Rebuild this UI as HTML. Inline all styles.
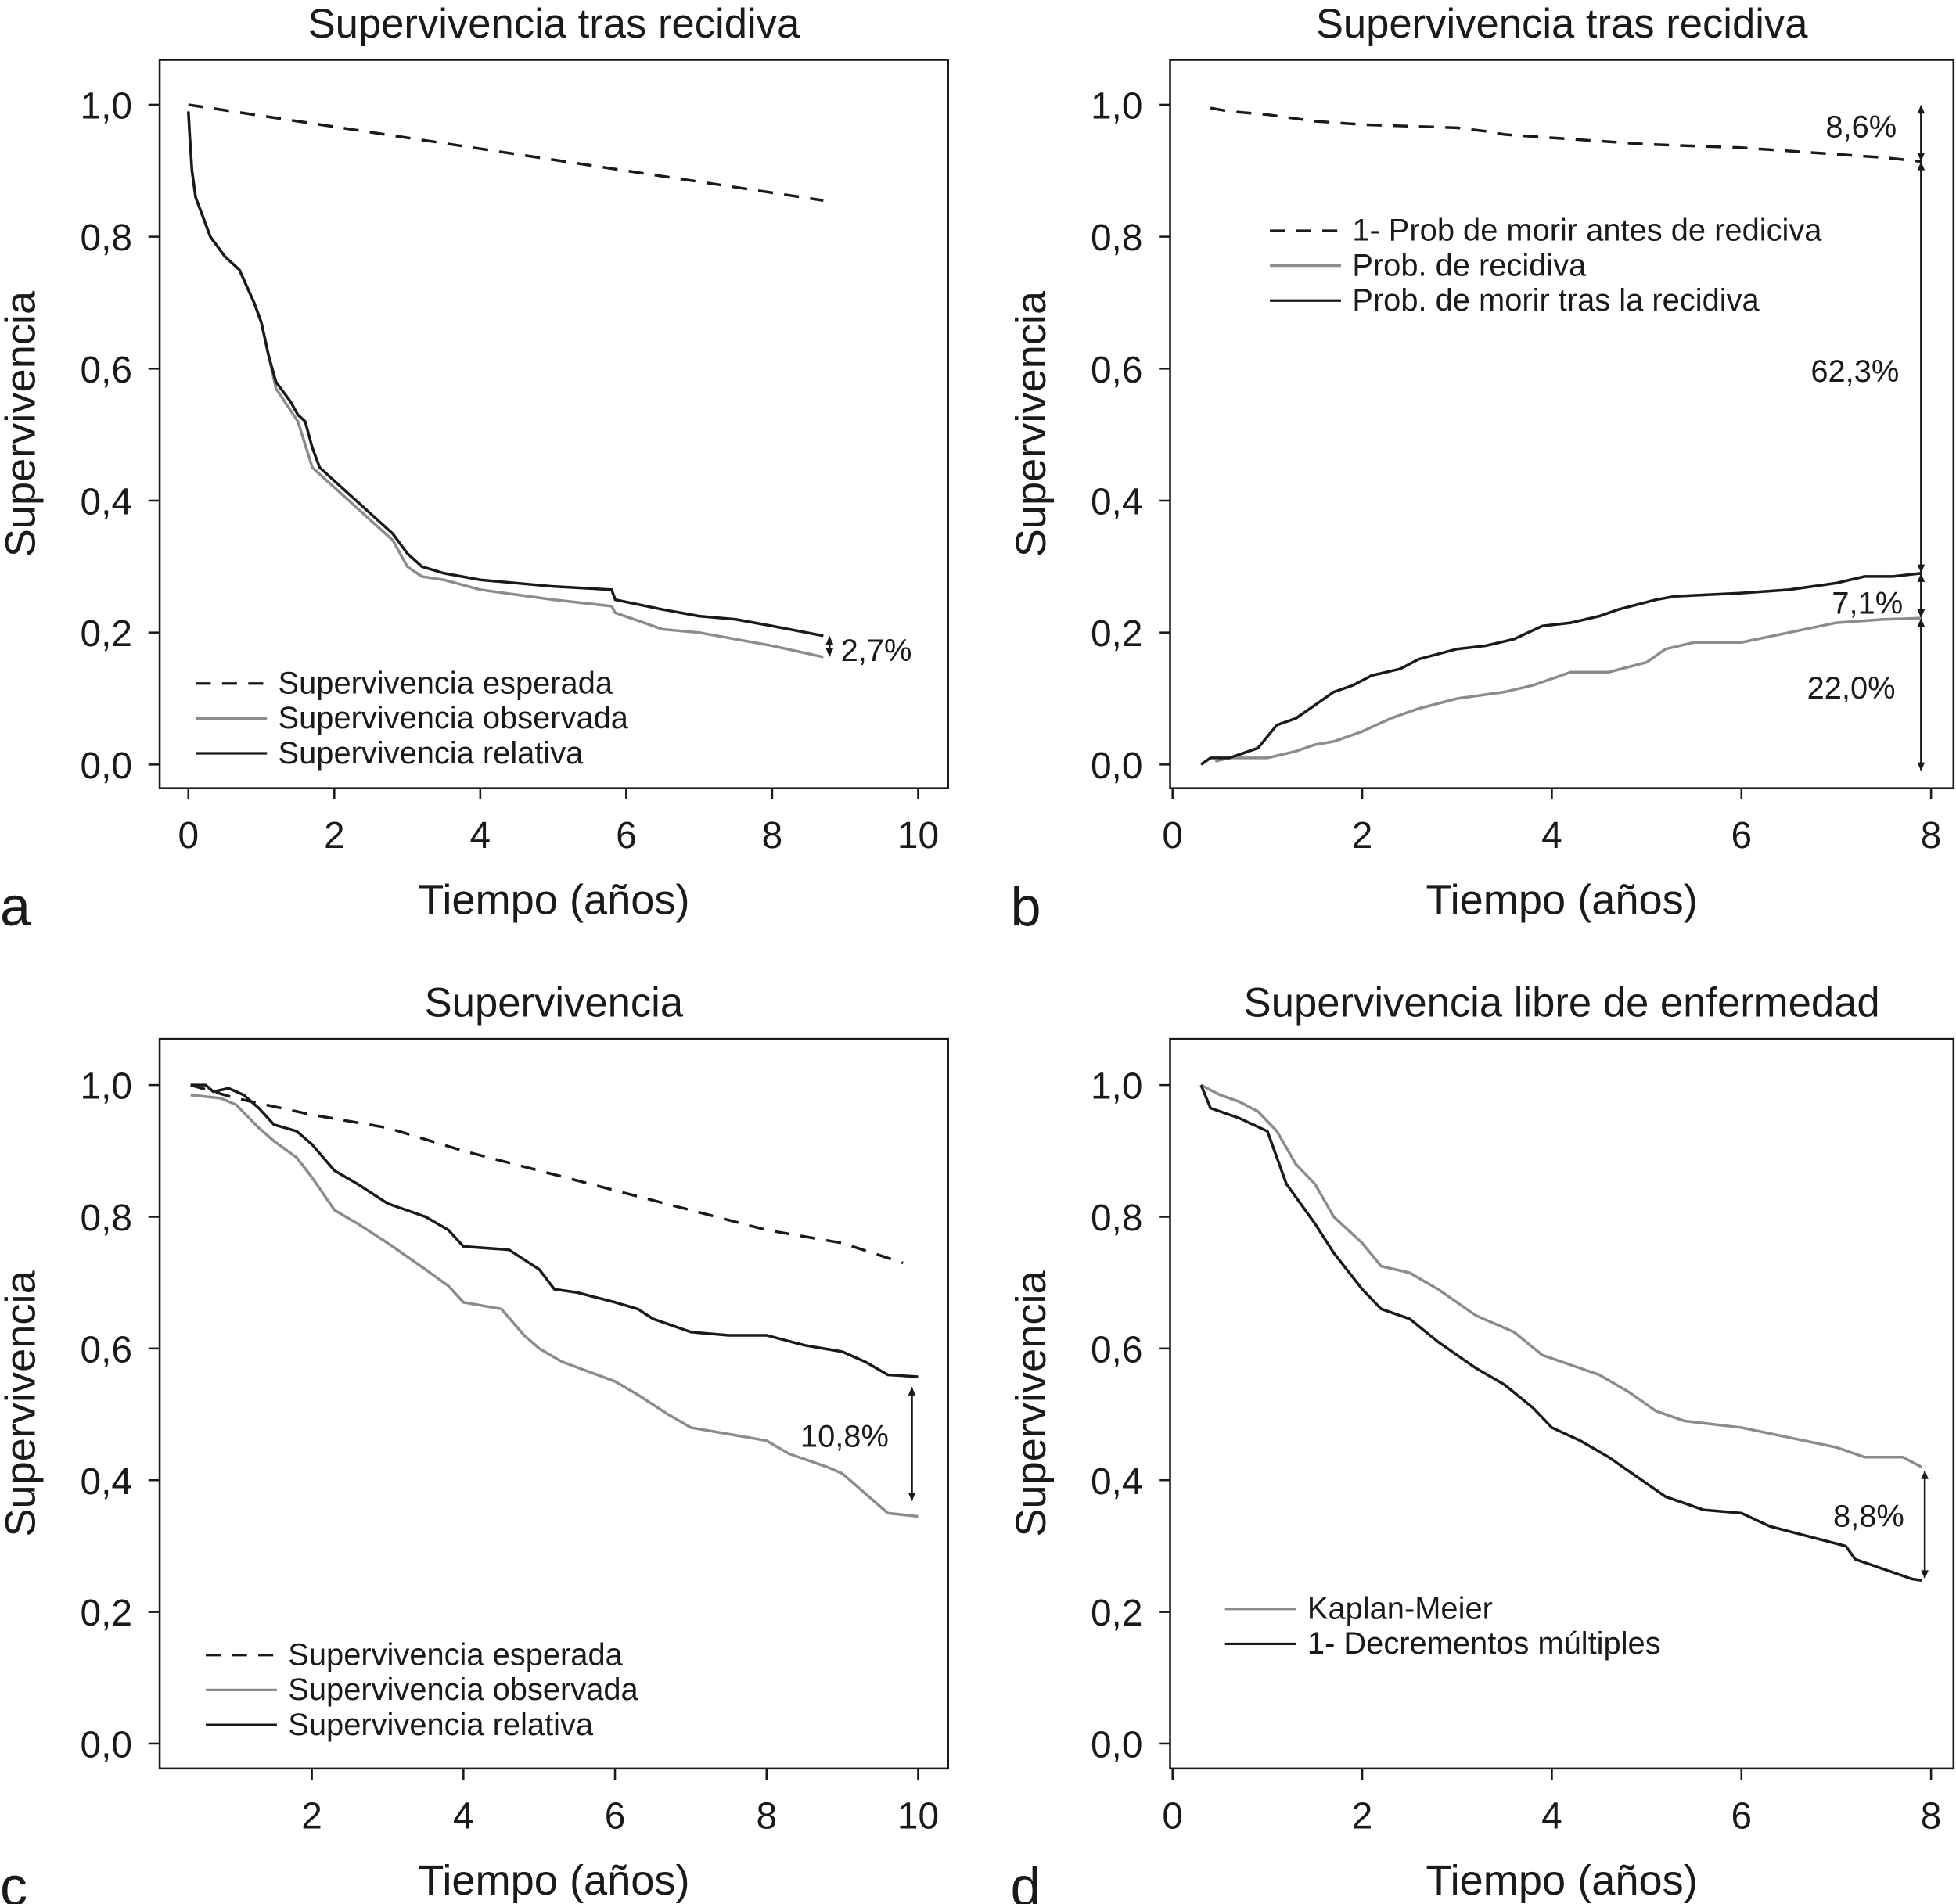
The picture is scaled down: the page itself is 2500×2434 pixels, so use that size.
<!DOCTYPE html>
<html><head><meta charset="utf-8"><style>
html,body{margin:0;padding:0;background:#fff}
svg{display:block}
text{font-family:"Liberation Sans",Arial,sans-serif;fill:#1a1a1a}
</style></head><body>
<svg id="fig" width="2500" height="2434" viewBox="0 0 1568 1526.6" xmlns="http://www.w3.org/2000/svg"></svg>
<script>
// ---------- DATA ----------
// Panel a
const aExpT=[0,8.7]; const aExpV=[1.0,0.855];
const aRelT=[0,0.02,0.05,0.1,0.2,0.3,0.5,0.7,0.9,1.0,1.1,1.2,1.4,1.5,1.6,1.7,1.8,2.0,2.2,2.4,2.6,2.8,3.0,3.2,3.5,4,5,5.8,5.85,6.5,7,7.5,8,8.7];
const aRelV=[0.99,0.95,0.90,0.86,0.83,0.80,0.77,0.75,0.70,0.67,0.62,0.58,0.55,0.53,0.52,0.48,0.45,0.43,0.41,0.39,0.37,0.35,0.32,0.30,0.29,0.28,0.27,0.265,0.25,0.235,0.225,0.22,0.21,0.195];
const aObsT=[0,0.02,0.05,0.1,0.2,0.3,0.5,0.7,0.9,1.0,1.1,1.2,1.5,1.7,2.0,2.4,2.8,3.0,3.2,3.5,4,5,5.8,5.85,6.5,7,8,8.7];
const aObsV=[0.99,0.95,0.90,0.86,0.83,0.80,0.77,0.75,0.70,0.67,0.62,0.57,0.52,0.45,0.42,0.38,0.34,0.30,0.285,0.28,0.265,0.25,0.24,0.23,0.205,0.20,0.18,0.163];
// Panel b
const bExpT=[0.4,0.6,1,1.5,2,3,3.3,3.5,4,5,6,7,7.5,7.9];
const bExpV=[0.995,0.99,0.985,0.975,0.97,0.965,0.96,0.955,0.95,0.94,0.935,0.925,0.92,0.914];
const bRecT=[0.45,0.6,1,1.3,1.5,1.7,2,2.3,2.6,3,3.5,3.8,4,4.2,4.6,5,5.2,5.5,6,6.5,7,7.5,7.9];
const bRecV=[0.005,0.01,0.01,0.02,0.03,0.035,0.05,0.07,0.085,0.1,0.11,0.12,0.13,0.14,0.14,0.155,0.175,0.185,0.185,0.2,0.215,0.22,0.222];
const bDieT=[0.3,0.4,0.6,0.9,1.1,1.3,1.5,1.7,1.9,2.1,2.4,2.6,3,3.3,3.6,3.9,4.2,4.5,4.7,5.1,5.3,6,6.5,7,7.3,7.6,7.9];
const bDieV=[0,0.01,0.01,0.025,0.06,0.07,0.09,0.11,0.12,0.135,0.145,0.16,0.175,0.18,0.19,0.21,0.215,0.225,0.235,0.25,0.255,0.26,0.265,0.275,0.285,0.285,0.29];
// Panel c
const cExpT=[0.4,1,2,3,4,5,6,7,8,9,9.8];
const cExpV=[1.0,0.98,0.955,0.935,0.9,0.87,0.84,0.81,0.78,0.76,0.73];
const cRelT=[0.4,0.6,0.7,0.9,1.1,1.3,1.5,1.8,2,2.3,2.6,3,3.5,3.8,4,4.6,5,5.2,5.5,6,6.3,6.5,7,7.5,8,8.5,9,9.3,9.6,10];
const cRelV=[1.0,1.0,0.99,0.995,0.985,0.965,0.94,0.93,0.91,0.87,0.85,0.82,0.80,0.78,0.755,0.75,0.72,0.69,0.685,0.67,0.66,0.645,0.625,0.62,0.62,0.605,0.595,0.58,0.56,0.557];
const cObsT=[0.4,0.8,1,1.3,1.5,1.8,2,2.3,2.6,3,3.5,3.8,4,4.5,4.8,5,5.3,6,6.3,6.7,7,7.5,8,8.3,8.8,9,9.3,9.6,10];
const cObsV=[0.985,0.98,0.97,0.935,0.915,0.89,0.86,0.81,0.79,0.76,0.72,0.695,0.67,0.66,0.62,0.6,0.58,0.55,0.53,0.5,0.48,0.47,0.46,0.44,0.42,0.41,0.38,0.35,0.345];
// Panel d
const dKmT=[0.3,0.5,0.7,0.9,1.1,1.3,1.5,1.7,2,2.2,2.5,2.8,3.2,3.6,3.9,4.2,4.5,4.8,5.1,5.4,6,6.5,7,7.3,7.7,7.9];
const dKmV=[1.0,0.985,0.975,0.96,0.93,0.88,0.85,0.80,0.76,0.725,0.715,0.69,0.65,0.625,0.59,0.575,0.56,0.535,0.505,0.49,0.48,0.465,0.45,0.435,0.435,0.42];
const dDmT=[0.3,0.4,0.7,1,1.2,1.5,1.7,2,2.2,2.5,2.8,3.2,3.5,3.8,4,4.3,4.6,4.9,5.2,5.6,6,6.3,6.7,7.1,7.2,7.5,7.8,7.9];
const dDmV=[1.0,0.965,0.95,0.93,0.85,0.79,0.745,0.69,0.66,0.645,0.61,0.57,0.545,0.51,0.48,0.46,0.435,0.405,0.375,0.355,0.35,0.33,0.315,0.3,0.28,0.265,0.25,0.248];
const yTicks=[0,0.2,0.4,0.6,0.8,1.0];
const yTickLabels=["0,0","0,2","0,4","0,6","0,8","1,0"];

// ---------- DRAW ----------
const NS="http://www.w3.org/2000/svg";
const svg=document.getElementById('fig');
function mk(tag,attrs,parent,txt){const e=document.createElementNS(NS,tag);for(const k in attrs)e.setAttribute(k,attrs[k]);if(txt!==undefined)e.textContent=txt;(parent||svg).appendChild(e);return e;}

function panel(p){
  const g=mk('g',{});
  
  
  const X=t=>p.x0+(t-p.t0)*(p.x1-p.x0)/(p.t1-p.t0);
  const Y=v=>p.y0+(p.yTop-p.y0)*v;
  const box=mk('rect',{x:p.bx0,y:p.by0,width:p.bx1-p.bx0,height:p.by1-p.by0,fill:'none',stroke:'#1a1a1a','stroke-width':1.6},g);
  
  
  const ti=mk('text',{x:(p.bx0+p.bx1)/2,y:p.by0-18,'text-anchor':'middle','font-size':33},g,p.title);
  
  
  p.xTicks.forEach(t=>{
    mk('line',{x1:X(t),x2:X(t),y1:p.by1,y2:p.by1+9,stroke:'#1a1a1a','stroke-width':1.6},g);
    const l=mk('text',{x:X(t),y:p.by1+48,'text-anchor':'middle','font-size':30},g,String(t));
    
    
  });
  yTicks.forEach((v,i)=>{
    mk('line',{x1:p.bx0-9,x2:p.bx0,y1:Y(v),y2:Y(v),stroke:'#1a1a1a','stroke-width':1.6},g);
    const l=mk('text',{x:p.bx0-22,y:Y(v)+11,'text-anchor':'end','font-size':30},g,yTickLabels[i]);
    
    
  });
  const xt=mk('text',{x:(p.bx0+p.bx1)/2,y:p.by1+101,'text-anchor':'middle','font-size':34},g,'Tiempo (años)');
  
  
  const cy=(p.by0+p.by1)/2;
  const yt=mk('text',{x:p.bx0-100,y:cy,'text-anchor':'middle','font-size':34,transform:`rotate(-90 ${p.bx0-100} ${cy})`},g,'Supervivencia');
  
  
  const lt=mk('text',{x:p.bx0-128,y:p.by1+110,'font-size':44},g,p.letter);
  
  
  p.series.forEach(s=>{
    const d=s.t.map((t,i)=>(i?'L':'M')+X(t).toFixed(1)+' '+Y(s.v[i]).toFixed(1)).join(' ');
    const pa=mk('path',{d:d,fill:'none',stroke:s.c,'stroke-width':2.2,'stroke-dasharray':s.dash||'none'},g);
    
    
  });
  p.legend.forEach((L,i)=>{
    const yy=p.ly+i*28;
    mk('line',{x1:p.lx,x2:p.lx+57,y1:yy,y2:yy,stroke:L.c,'stroke-width':2,'stroke-dasharray':L.dash||'none'},g);
    const t=mk('text',{x:p.lx+66,y:yy+8,'font-size':25},g,L.label);
    
    
  });
  p.arrows.forEach(a=>{
    const ya=Y(a.v0), yb=Y(a.v1);
    mk('line',{x1:a.x,x2:a.x,y1:ya+1,y2:yb-1,stroke:'#1a1a1a','stroke-width':1.6},g);
    mk('path',{d:`M${a.x-3} ${ya+7} L${a.x} ${ya} L${a.x+3} ${ya+7}Z M${a.x-3} ${yb-7} L${a.x} ${yb} L${a.x+3} ${yb-7}Z`,fill:'#1a1a1a'},g);
    const t=mk('text',{x:a.tx,y:a.ty,'text-anchor':a.anchor||'middle','font-size':25},g,a.label);
    
    
  });
}

const DASH='12 9';
panel({name:'panel-a',letter:'a',title:'Supervivencia tras recidiva',bx0:128,bx1:760,by0:48,by1:632,x0:151,x1:736,t0:0,t1:10,y0:613,yTop:84,
  xTicks:[0,2,4,6,8,10],
  series:[{t:aExpT,v:aExpV,c:'#1a1a1a',dash:DASH,n:'expected-survival-line'},{t:aObsT,v:aObsV,c:'#8c8c8c',n:'observed-survival-line'},{t:aRelT,v:aRelV,c:'#1a1a1a',n:'relative-survival-line'}],
  lx:157,ly:548,legend:[{c:'#1a1a1a',dash:DASH,label:'Supervivencia esperada'},{c:'#8c8c8c',label:'Supervivencia observada'},{c:'#1a1a1a',label:'Supervivencia relativa'}],
  arrows:[{x:665,v0:0.195,v1:0.163,tx:674,ty:530,anchor:'start',label:'2,7%'}]});
panel({name:'panel-b',letter:'b',title:'Supervivencia tras recidiva',bx0:938,bx1:1566,by0:48,by1:632,x0:940,x1:1548,t0:0,t1:8,y0:613,yTop:84,
  xTicks:[0,2,4,6,8],
  series:[{t:bExpT,v:bExpV,c:'#1a1a1a',dash:DASH,n:'prob-death-before-relapse-line'},{t:bRecT,v:bRecV,c:'#8c8c8c',n:'prob-relapse-line'},{t:bDieT,v:bDieV,c:'#1a1a1a',n:'prob-death-after-relapse-line'}],
  lx:1018,ly:185,legend:[{c:'#1a1a1a',dash:DASH,label:'1- Prob de morir antes de rediciva'},{c:'#8c8c8c',label:'Prob. de recidiva'},{c:'#1a1a1a',label:'Prob. de morir tras la recidiva'}],
  arrows:[{x:1540,v0:1.0,v1:0.914,tx:1492,ty:110,label:'8,6%'},{x:1540,v0:0.914,v1:0.29,tx:1487,ty:306,label:'62,3%'},{x:1540,v0:0.29,v1:0.222,tx:1497,ty:492,label:'7,1%'},{x:1540,v0:0.222,v1:-0.01,tx:1484,ty:560,label:'22,0%'}]});
panel({name:'panel-c',letter:'c',title:'Supervivencia',bx0:128,bx1:760,by0:833,by1:1418,x0:250,x1:736,t0:2,t1:10,y0:1398,yTop:870,
  xTicks:[2,4,6,8,10],
  series:[{t:cExpT,v:cExpV,c:'#1a1a1a',dash:DASH,n:'expected-survival-line'},{t:cObsT,v:cObsV,c:'#8c8c8c',n:'observed-survival-line'},{t:cRelT,v:cRelV,c:'#1a1a1a',n:'relative-survival-line'}],
  lx:165,ly:1327,legend:[{c:'#1a1a1a',dash:DASH,label:'Supervivencia esperada'},{c:'#8c8c8c',label:'Supervivencia observada'},{c:'#1a1a1a',label:'Supervivencia relativa'}],
  arrows:[{x:731,v0:0.542,v1:0.368,tx:677,ty:1160,label:'10,8%'}]});
panel({name:'panel-d',letter:'d',title:'Supervivencia libre de enfermedad',bx0:938,bx1:1566,by0:833,by1:1418,x0:940,x1:1548,t0:0,t1:8,y0:1398,yTop:870,
  xTicks:[0,2,4,6,8],
  series:[{t:dKmT,v:dKmV,c:'#8c8c8c',n:'kaplan-meier-line'},{t:dDmT,v:dDmV,c:'#1a1a1a',n:'multiple-decrement-line'}],
  lx:982,ly:1290,legend:[{c:'#8c8c8c',label:'Kaplan-Meier'},{c:'#1a1a1a',label:'1- Decrementos múltiples'}],
  arrows:[{x:1543,v0:0.415,v1:0.25,tx:1498,ty:1224,label:'8,8%'}]});
</script>
</body></html>
